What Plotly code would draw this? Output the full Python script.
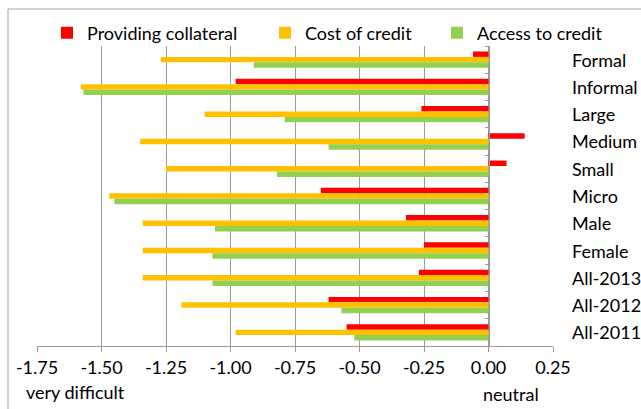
import plotly.graph_objects as go

# Perceived difficulty scores (0 = neutral, negative = more difficult)
categories = ["Formal", "Informal", "Large", "Medium", "Small", "Micro",
              "Male", "Female", "All-2013", "All-2012", "All-2011"]
providing_collateral = [-0.06, -0.98, -0.26, 0.14, 0.07, -0.65,
                        -0.32, -0.25, -0.27, -0.62, -0.55]
cost_of_credit = [-1.27, -1.58, -1.10, -1.35, -1.25, -1.47,
                  -1.34, -1.34, -1.34, -1.19, -0.98]
access_to_credit = [-0.91, -1.57, -0.79, -0.62, -0.82, -1.45,
                    -1.06, -1.07, -1.07, -0.57, -0.52]

tick_vals = [-1.75, -1.5, -1.25, -1.0, -0.75, -0.5, -0.25, 0.0, 0.25]
tick_text = ["-1.75", "-1.50", "-1.25", "-1.00", "-0.75", "-0.50", "-0.25", "0.00", "0.25"]

FONT = "Lato"
FS = 18
TXT = "#000000"
GRID = "#9a9a9a"
W, H = 641, 409
L, R, T, B = 37, 88, 46, 63
PW, PH = W - L - R, H - T - B

fig = go.Figure()
# with the reversed category axis the first trace sits on top of each group
fig.add_trace(go.Bar(y=categories, x=providing_collateral, orientation="h",
                     name="Providing collateral", marker_color="#FF0000",
                     marker_line_width=0, legend="legend"))
fig.add_trace(go.Bar(y=categories, x=cost_of_credit, orientation="h",
                     name="Cost of credit", marker_color="#FFC000",
                     marker_line_width=0, legend="legend2"))
fig.add_trace(go.Bar(y=categories, x=access_to_credit, orientation="h",
                     name="Access to credit", marker_color="#92D050",
                     marker_line_width=0, legend="legend3"))

zero_pos = (0 - (-1.75)) / 2.0

leg_common = dict(orientation="h", xref="container", yref="container",
                  yanchor="middle", xanchor="left", bgcolor="rgba(0,0,0,0)",
                  font=dict(family=FONT, size=FS, color=TXT))

fig.update_layout(
    width=W, height=H,
    margin=dict(l=L, r=R, t=T, b=B, pad=0, autoexpand=False),
    paper_bgcolor="white", plot_bgcolor="white",
    showlegend=True,
    barmode="group", bargap=0.4, bargroupgap=0,
    font=dict(family=FONT, size=FS, color=TXT),
    legend=dict(x=47 / W, y=1 - 33 / H, **leg_common),
    legend2=dict(x=265 / W, y=1 - 33 / H, **leg_common),
    legend3=dict(x=437 / W, y=1 - 33 / H, **leg_common),
    xaxis=dict(range=[-1.75, 0.25], tickvals=tick_vals, ticktext=tick_text,
               showgrid=True, gridcolor=GRID, gridwidth=1,
               zeroline=False, showline=True, linecolor=GRID, linewidth=1,
               ticks="outside", ticklen=5, tickcolor=GRID,
               tickfont=dict(family=FONT, size=FS, color=TXT)),
    yaxis=dict(type="category", categoryorder="array", categoryarray=categories,
               autorange="reversed", anchor="free", position=zero_pos,
               showline=True, linecolor=GRID, linewidth=1,
               ticks="outside", ticklen=4, tickcolor=GRID, tickson="boundaries",
               showticklabels=False, showgrid=False, zeroline=False),
)

# category names to the right of the plot area
for cat in categories:
    fig.add_annotation(text=cat, xref="paper", yref="y",
                       x=(570 - L) / PW, y=cat, xanchor="left", yanchor="middle",
                       showarrow=False, font=dict(family=FONT, size=FS, color=TXT))

# chart frame
fig.add_shape(type="rect", xref="paper", yref="paper",
              x0=(8 - L) / PW, x1=1.3,
              y0=-0.3, y1=((H - B) - 9) / PH,
              line=dict(color="#a6a6a6", width=1), fillcolor="rgba(0,0,0,0)",
              layer="below")

fig.add_annotation(text="very difficult", xref="paper", yref="paper",
                   x=(24 - L) / PW, y=-(392 - (H - B)) / PH,
                   xanchor="left", yanchor="middle", showarrow=False,
                   font=dict(family=FONT, size=FS, color=TXT))
fig.add_annotation(text="neutral", xref="paper", yref="paper",
                   x=(511 - L) / PW, y=-(394 - (H - B)) / PH,
                   xanchor="center", yanchor="middle", showarrow=False,
                   font=dict(family=FONT, size=FS, color=TXT))

fig.write_html("out.html")
